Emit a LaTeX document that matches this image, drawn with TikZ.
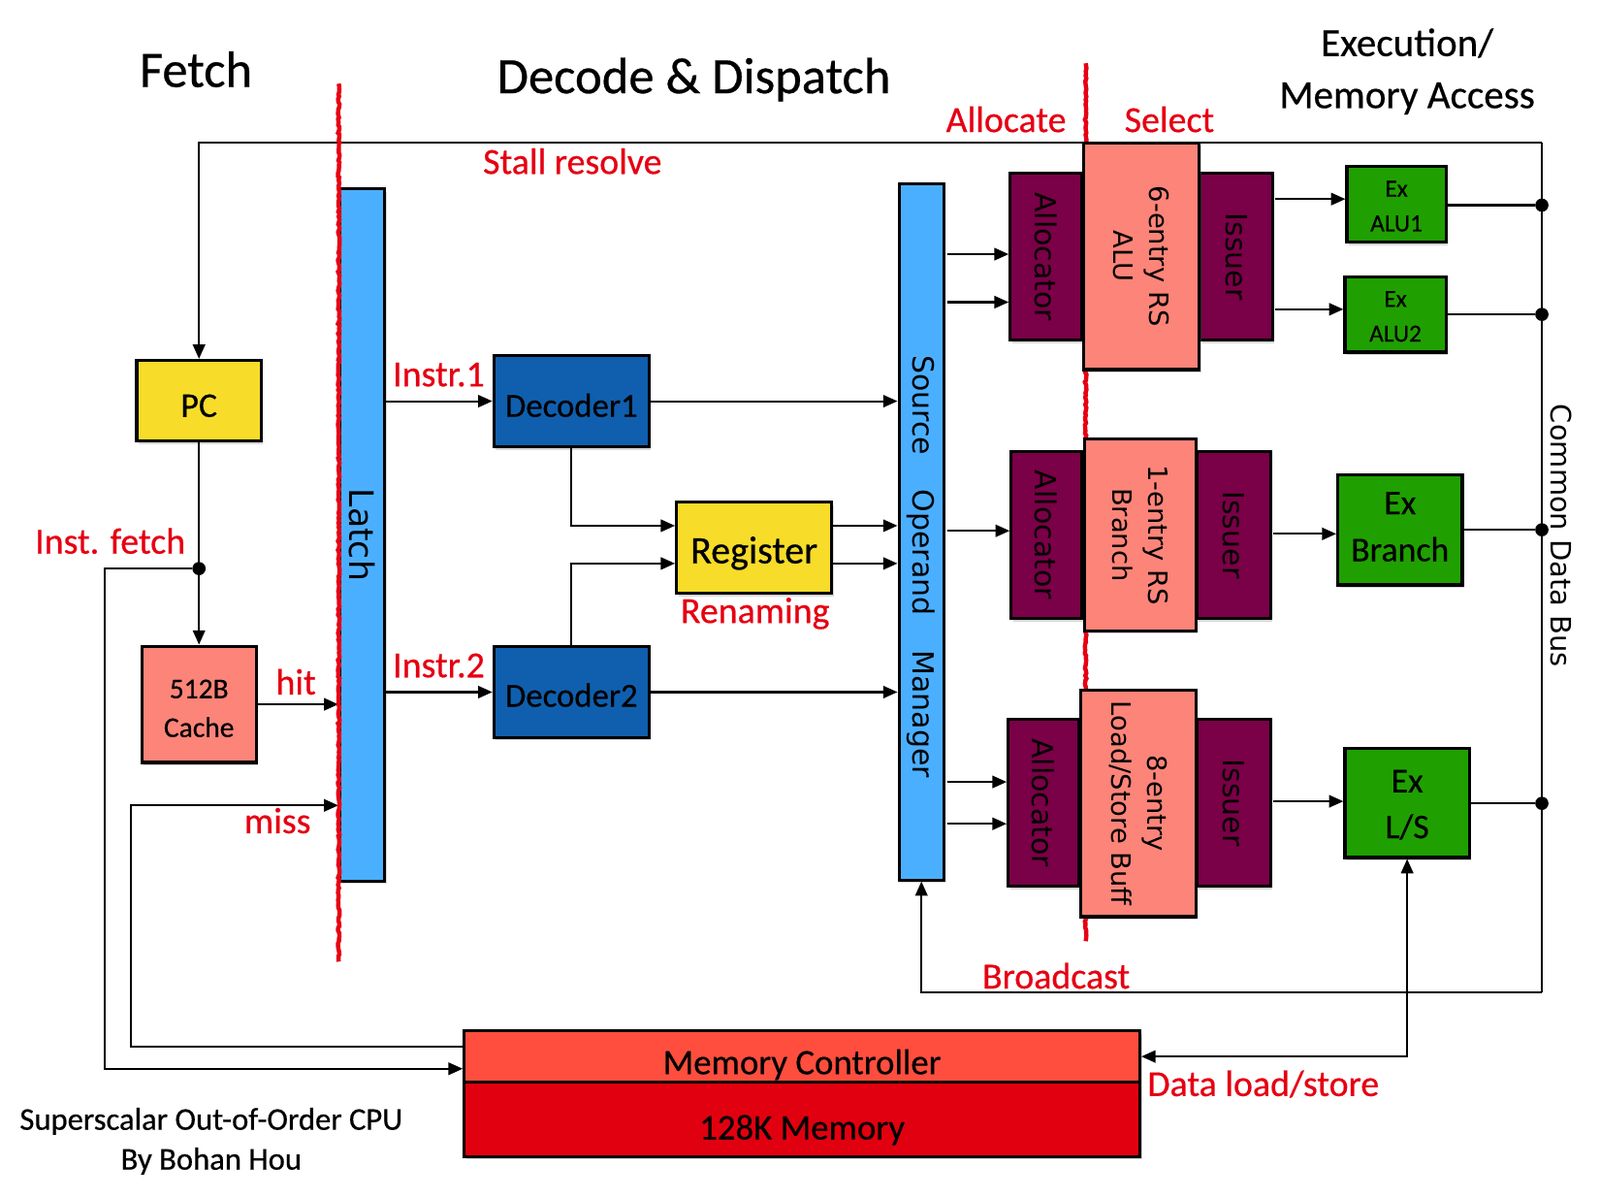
\documentclass[tikz,border=0pt]{standalone}
\usepackage{fontspec}
\setmainfont{Carlito}[FakeBold=0.5]
\newfontfamily\lucida{DejaVu Sans}
\usetikzlibrary{arrows.meta,shadows,decorations.pathmorphing}
\definecolor{cyel}{HTML}{F7DC29}
\definecolor{csalmon}{HTML}{FD8479}
\definecolor{cblue}{HTML}{4BAFFF}
\definecolor{cdblue}{HTML}{0F5FAE}
\definecolor{cpurple}{HTML}{7A0047}
\definecolor{cgreen}{HTML}{1FA000}
\definecolor{cmc}{HTML}{FF4E3E}
\definecolor{cmem}{HTML}{E1000F}
\definecolor{cred}{HTML}{E60012}
\tikzset{
 box/.style={draw=black, line width=3pt, inner sep=0pt, align=center,
   drop shadow={opacity=0.3,shadow xshift=2pt,shadow yshift=-3pt}},
 btxt/.style={inner sep=0pt, align=center},
 conn/.style={line width=2pt, draw=black},
 arr/.style={conn, -{Triangle[length=14pt,width=12pt]}},
 darr/.style={conn, {Triangle[length=14pt,width=12pt]}-{Triangle[length=14pt,width=12pt]}},
 lbl/.style={text=cred, font=\fontsize{36}{38}\selectfont, inner sep=0pt},
 ttl/.style={font=\fontsize{50}{54}\selectfont, inner sep=0pt},
 rot/.style={rotate=-90, font=\lucida\fontsize{28.5}{36}\selectfont, inner sep=0pt, align=center},
 jdot/.style={circle, fill=black, minimum size=13pt, inner sep=0pt},
 redline/.style={draw=cred, line width=4.2pt, decorate,
   decoration={random steps, segment length=2.5pt, amplitude=0.8pt}},
}
\begin{document}
\begin{tikzpicture}[x=1pt,y=-1pt]
\fill[white] (0,0) rectangle (1568,1173);
\useasboundingbox (0,0) rectangle (1568,1173);

% titles
\node[ttl] (tFetch) at (192,68) {Fetch};
\node[ttl] (tDD) at (680,78) {Decode \& Dispatch};
\node[inner sep=0pt, align=center, font=\fontsize{39}{51}\selectfont] (tEx) at (1379,70) {Execution/\\Memory Access};
\node[lbl] (lAlloc) at (986,117) {Allocate};
\node[lbl] (lSel) at (1146,117) {Select};
\node[lbl] (lStall) at (561,158) {Stall resolve};

% bus coordinates
\coordinate (bustop) at (1511,140);
\coordinate (busbot) at (1511,972);

% fetch stage
\node[box, fill=cyel, minimum width=122pt, minimum height=79pt] (PC) at (195,392.5) {};
\node[btxt, font=\fontsize{34}{38}\selectfont] (PCt) at (195,397.5) {PC};
\node[box, fill=csalmon, minimum width=112pt, minimum height=114pt] (Cache) at (195,690) {};
\node[btxt, font=\fontsize{28}{38}\selectfont] (Cachet) at (195,694) {512B\\Cache};

% latch
\node[box, fill=cblue, minimum width=44pt, minimum height=678pt] (Latch) at (355,524) {};
\node[rot, font=\lucida\fontsize{33}{36}\selectfont] (latchT) at (Latch) {Latch};

% decoders & register
\node[box, fill=cdblue, minimum width=152pt, minimum height=90pt] (Dec1) at (560,393) {};
\node[btxt, font=\fontsize{33}{36}\selectfont] (Dec1t) at (560,397) {Decoder1};
\node[box, fill=cdblue, minimum width=152pt, minimum height=89pt] (Dec2) at (560,678) {};
\node[btxt, font=\fontsize{33}{36}\selectfont] (Dec2t) at (560,681) {Decoder2};
\node[box, fill=cyel, minimum width=152pt, minimum height=89pt] (Reg) at (739,536.5) {};
\node[btxt, font=\fontsize{38}{40}\selectfont] (Regt) at (739,542) {Register};

% source operand manager
\node[box, fill=cblue, minimum width=44pt, minimum height=682pt] (SOM) at (903,521) {};
\node[rot] (somT) at (903,555) {Source\hspace{34pt}Operand\hspace{34pt}Manager};

% second red separator (behind RS)
\draw[redline] (1064,62) -- (1064,922);

% row 1
\node[box, fill=cpurple, minimum width=70pt, minimum height=163pt] (Al1) at (1025,251.5) {};
\node[box, fill=cpurple, minimum width=71pt, minimum height=163pt] (Is1) at (1211.5,251.5) {};
\node[box, fill=csalmon, minimum width=113pt, minimum height=222pt] (RS1) at (1118.5,251) {};
\node[rot] (al1T) at (Al1) {Allocator};
\node[rot] (is1T) at (Is1) {Issuer};
\node[rot, font=\lucida\fontsize{26}{36}\selectfont] (rs1T) at (RS1) {6-entry RS\\ALU};

% row 2
\node[box, fill=cpurple, minimum width=69pt, minimum height=164pt] (Al2) at (1025.5,524) {};
\node[box, fill=cpurple, minimum width=72pt, minimum height=164pt] (Is2) at (1209,524) {};
\node[box, fill=csalmon, minimum width=109pt, minimum height=188pt] (RS2) at (1117.5,524) {};
\node[rot] (al2T) at (Al2) {Allocator};
\node[rot] (is2T) at (Is2) {Issuer};
\node[rot, font=\lucida\fontsize{26}{36}\selectfont] (rs2T) at (RS2) {1-entry RS\\Branch};

% row 3
\node[box, fill=cpurple, minimum width=69pt, minimum height=163pt] (Al3) at (1022.5,786.5) {};
\node[box, fill=cpurple, minimum width=72pt, minimum height=163pt] (Is3) at (1209,786.5) {};
\node[box, fill=csalmon, minimum width=113pt, minimum height=222pt] (RS3) at (1115.5,787) {};
\node[rot] (al3T) at (Al3) {Allocator};
\node[rot] (is3T) at (Is3) {Issuer};
\node[rot, font=\lucida\fontsize{26}{36}\selectfont] (rs3T) at (RS3) {8-entry\\Load/Store Buff};

% execution units
\node[box, fill=cgreen, minimum width=97pt, minimum height=74pt] (ALU1) at (1368.5,200) {};
\node[btxt, font=\fontsize{24}{34}\selectfont] (ALU1t) at (1368.5,202) {Ex\\ALU1};
\node[box, fill=cgreen, minimum width=99pt, minimum height=74pt] (ALU2) at (1367.5,308) {};
\node[btxt, font=\fontsize{24}{34}\selectfont] (ALU2t) at (1367.5,310) {Ex\\ALU2};
\node[box, fill=cgreen, minimum width=122pt, minimum height=108pt] (Br) at (1372,519) {};
\node[btxt, font=\fontsize{34}{46}\selectfont] (Brt) at (1372,516) {Ex\\Branch};
\node[box, fill=cgreen, minimum width=122pt, minimum height=107pt] (LS) at (1379,786.5) {};
\node[btxt, font=\fontsize{34}{45}\selectfont] (LSt) at (1379,788.5) {Ex\\L/S};

% memory
\node[box, fill=cmc, minimum width=662pt, minimum height=50pt] (MC) at (786,1035) {};
\node[btxt, font=\fontsize{35}{38}\selectfont] (MCt) at (786,1043) {Memory Controller};
\node[box, fill=cmem, minimum width=662pt, minimum height=73pt] (Mem) at (786,1096.5) {};
\node[btxt, font=\fontsize{35}{38}\selectfont] (Memt) at (786,1107) {128K Memory};

% common data bus
\draw[conn] (bustop) -- (busbot);
\node[rot, font=\lucida\fontsize{27.5}{30}\selectfont] (cdbT) at (1530,525) {Common Data Bus};
\node[jdot] (d1) at (1511,201) {};
\node[jdot] (d2) at (1511,308) {};
\node[jdot] (d3) at (1511,519) {};
\node[jdot] (d4) at (1511,787) {};
\draw[conn] (ALU1.east |- d1) -- (d1);
\draw[conn] (ALU2.east |- d2) -- (d2);
\draw[conn] (Br.east |- d3) -- (d3);
\draw[conn] (LS.east |- d4) -- (d4);

% stall resolve loop
\draw[arr] (bustop) -- (195,140) -- (PC.north);
% broadcast loop
\draw[arr] (busbot) -- (903,972) -- (SOM.south);

% fetch connections
\node[jdot] (jf) at (195,557) {};
\draw[arr] (PC.south) -- (Cache.north);
\draw[arr] (jf) -- (103,557) -- (103,1047) -- (MC.west |- 0,1047);
\draw[arr] (Cache.east) -- (Latch.west |- Cache.east);
\draw[arr] (MC.west |- 0,1025) -- (128,1025) -- (128,789) -- (Latch.west |- 0,789);

% first red separator (over latch edge)
\draw[redline] (332,82) -- (332,942);

% decode connections
\draw[arr] (Latch.east |- Dec1.west) -- (Dec1.west);
\draw[arr] (Latch.east |- Dec2.west) -- (Dec2.west);
\draw[arr] (Dec1.south) -- (560,515) -- (Reg.west |- 0,515);
\draw[arr] (Dec2.north) -- (560,552) -- (Reg.west |- 0,552);
\draw[arr] (Dec1.east) -- (SOM.west |- Dec1.east);
\draw[arr] (Dec2.east) -- (SOM.west |- Dec2.east);
\draw[arr] (Reg.east |- 0,515) -- (SOM.west |- 0,515);
\draw[arr] (Reg.east |- 0,552) -- (SOM.west |- 0,552);

% dispatch connections
\draw[arr] (928,249) -- (Al1.west |- 0,249);
\draw[arr] (928,296) -- (Al1.west |- 0,296);
\draw[arr] (928,520) -- (Al2.west |- 0,520);
\draw[arr] (928,766) -- (Al3.west |- 0,766);
\draw[arr] (928,807) -- (Al3.west |- 0,807);

% issue connections
\draw[arr] (1250,195) -- (ALU1.west |- 0,195);
\draw[arr] (1250,303) -- (ALU2.west |- 0,303);
\draw[arr] (1248,523) -- (Br.west |- 0,523);
\draw[arr] (1248,785) -- (LS.west |- 0,785);

% data load/store
\draw[darr] (LS.south) |- (MC.east);

% labels
\node[lbl] (lFetch) at (108,530) {Inst. fetch};
\node[lbl] (lhit) at (290,668) {hit};
\node[lbl] (lmiss) at (272,804) {miss};
\node[lbl] (lI1) at (430,367) {Instr.1};
\node[lbl] (lI2) at (430,652) {Instr.2};
\node[lbl] (lRen) at (740,601) {Renaming};
\node[lbl] (lBc) at (1035,956) {Broadcast};
\node[lbl] (lDls) at (1238,1062) {Data load/store};

% footer
\node[inner sep=0pt, align=center, font=\fontsize{31}{39}\selectfont] (foot) at (207,1118) {Superscalar Out-of-Order CPU\\By Bohan Hou};
\end{tikzpicture}
\end{document}
